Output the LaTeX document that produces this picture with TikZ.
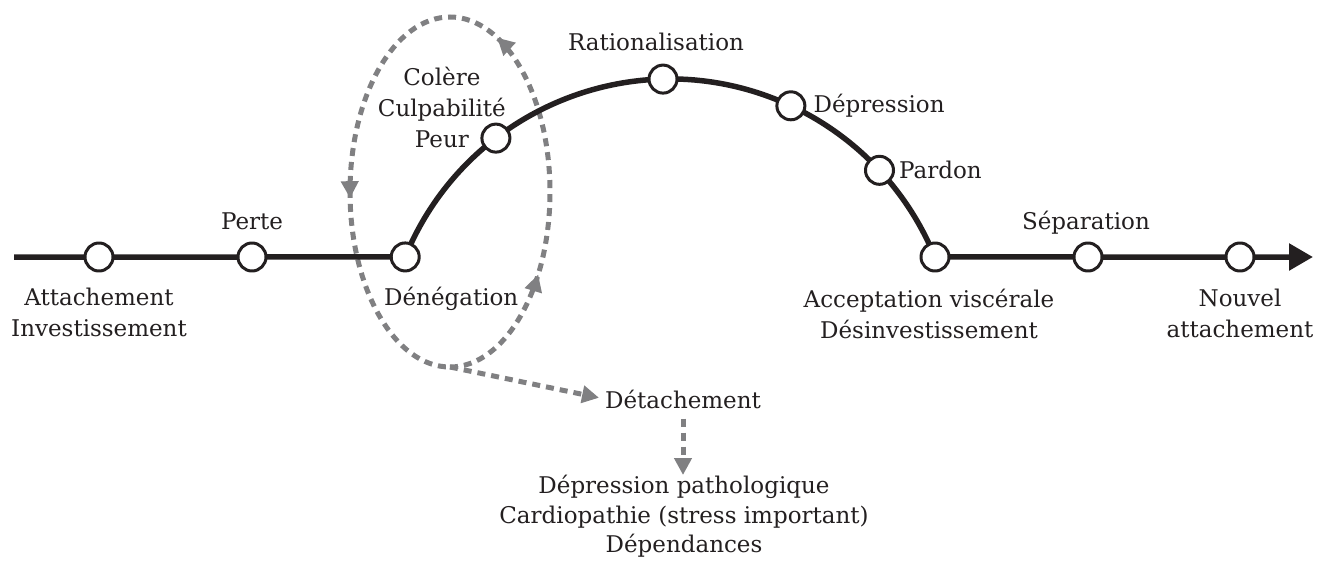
\documentclass[tikz,border=0pt]{standalone}
\usepackage{fontspec}
\setmainfont{DejaVu Serif}
\usetikzlibrary{arrows.meta,calc,backgrounds,decorations.markings}
\definecolor{ink}{RGB}{35,31,32}
\definecolor{loopgray}{RGB}{128,128,130}
\newcommand{\labelsize}{\fontsize{23}{31}\selectfont}
\begin{document}
\begin{tikzpicture}[x=1pt, y=-1pt, font=\labelsize, line join=round, >={Triangle[length=24pt,width=26pt]},
	dot/.style={circle, draw=ink, fill=white, line width=3pt, minimum size=28pt, inner sep=0pt},
	lbl/.style={align=center, inner sep=0pt, text=ink},
	every label/.style={lbl},
	mainline/.style={draw=ink, line width=5.5pt},
	dashline/.style={draw=loopgray, line width=5pt, dash pattern=on 8pt off 6pt},
	dasharrow/.style={dashline, -{Triangle[length=17pt,width=17pt]}},
	loopmarks/.style={postaction={decorate}, decoration={markings,
		mark=at position 0.155 with {\arrow{Triangle[length=17pt,width=17pt]}},
		mark=at position 0.44 with {\arrow{Triangle[length=17pt,width=17pt]}},
		mark=at position 0.757 with {\arrow{Triangle[length=17pt,width=17pt]}}}}]
				\useasboundingbox (0,0) rectangle (1318,565);
				\path
				(14,257) coordinate (start)
				(1313,257) coordinate (stop)
				(670,365) coordinate (ctr)
				(450,367) coordinate (loopbot);
				% points on the line
				\path
				(99,257) node[dot, label={[label distance=15.5pt]below:{Attachement\\Investissement}}] (attach) {}
				(252,257) node[dot, label={[label distance=11.5pt, text depth=0pt]above:Perte}] (perte) {}
				($(ctr)+(-157.8:286)$) node[dot, label={[label distance=14pt, xshift=46pt]below:Dénégation}] (deneg) {}
				($(ctr)+(-127.5:286)$) node[dot] (peur) {}
				($(ctr)+(-91.4:286)$) node[dot, label={[label distance=12.5pt, text depth=0pt, xshift=-7pt]above:Rationalisation}] (ratio) {}
				($(ctr)+(-65:286)$) node[dot, label={[label distance=7pt]right:Dépression}] (depr) {}
				($(ctr)+(-42.9:286)$) node[dot, label={[label distance=4pt]right:Pardon}] (pardon) {}
				(935,257) node[dot, label={[label distance=16pt, xshift=-6pt]below:{Acceptation viscérale\\Désinvestissement}}] (accept) {}
				(1088,257) node[dot, label={[label distance=11.5pt, text depth=0pt, xshift=-2pt]above:Séparation}] (separ) {}
				(1240,257) node[dot, label={[label distance=16pt]below:{Nouvel\\attachement}}] (nouvel) {};
				\node[lbl, anchor=south] (emot) at ($(peur)+(-54,10)$) {Colère\\Culpabilité\\Peur};
				\node[lbl, anchor=base] (detach) at (683,408) {Détachement};
				\node[lbl, anchor=north, font=\fontsize{23}{29.5}\selectfont] (patho) at (684,475) {Dépression pathologique\\Cardiopathie (stress important)\\Dépendances};
				\begin{scope}[on background layer]
				\draw[dashline, loopmarks] (loopbot) arc[start angle=90, end angle=-270, x radius=100, y radius=175];
				\draw[dasharrow, shorten >=6pt] (loopbot) -- (detach.west);
				\draw[dasharrow, shorten <=10pt] (detach.south) -- (detach.south |- patho.north);
				\draw[mainline, ->] (start) -- (attach.center) -- (perte.center) -- (deneg.center) arc[start angle=-157.8, end angle=-22.2, radius=286] -- (separ.center) -- (nouvel.center) -- (stop);
				\end{scope}
			\end{tikzpicture}
\end{document}
